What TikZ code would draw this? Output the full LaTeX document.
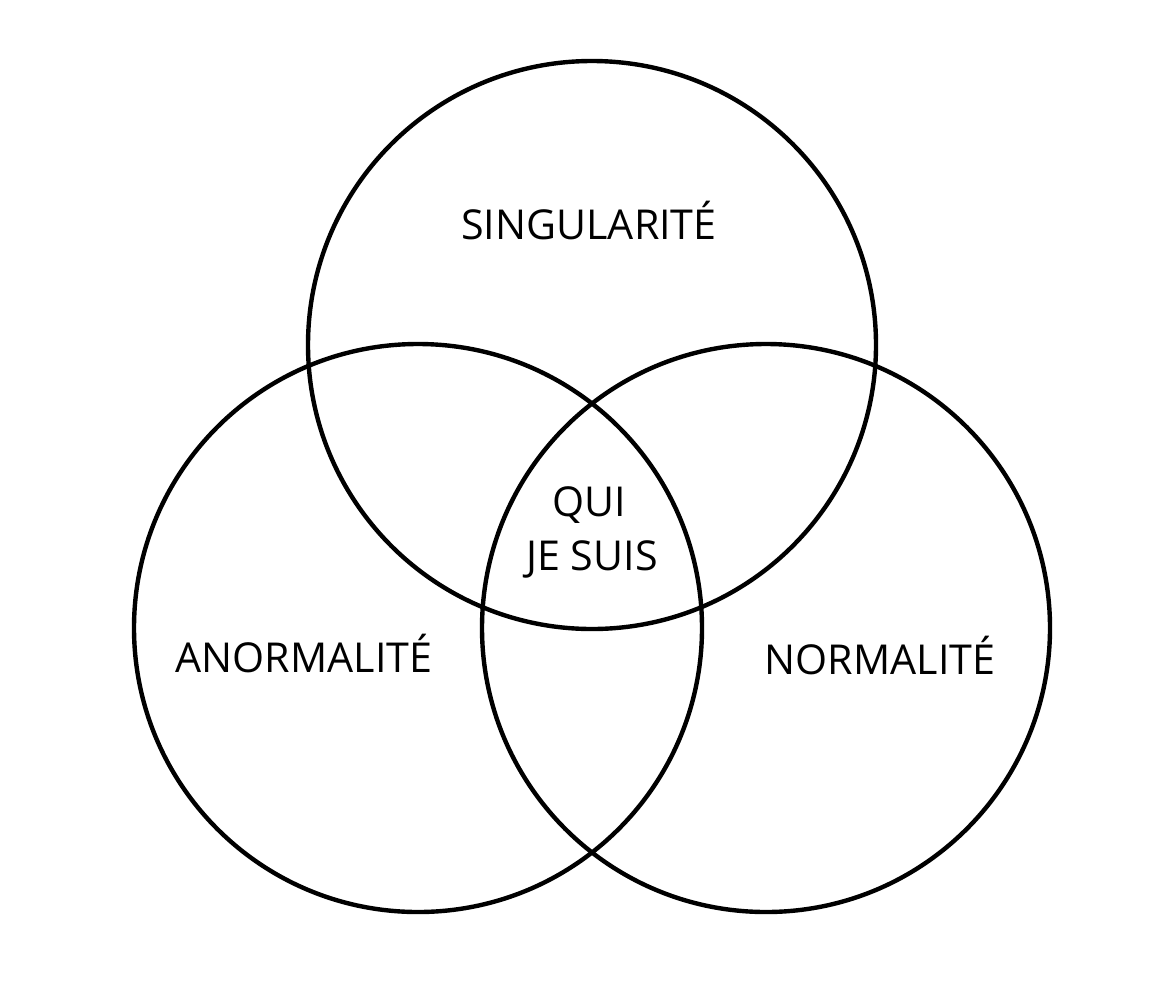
\documentclass[tikz,border=0pt]{standalone}
\usepackage{fontspec}
\setmainfont{Open Sans}
\tikzset{ring/.style={line width=2.2pt},
	lbl/.style={anchor=base,inner sep=0pt,font=\fontsize{20.6}{24}\selectfont}}
\begin{document}
\begin{tikzpicture}[x=0.5pt,y=-0.5pt]
	\useasboundingbox (0,0) rectangle (1176,980);
	\draw[ring] (592,345) circle[radius=142pt];
	\draw[ring] (418,628) circle[radius=142pt];
	\draw[ring] (766,628) circle[radius=142pt];
	\node[lbl] (sing) at (589,239) {SINGULARITÉ};
	\node[lbl] (anor) at (304,672) {ANORMALITÉ};
	\node[lbl] (norm) at (880,674) {NORMALITÉ};
	\node[lbl] (qui) at (589,516) {QUI};
	\node[lbl] (suis) at (592,570) {JE SUIS};
\end{tikzpicture}
\end{document}
